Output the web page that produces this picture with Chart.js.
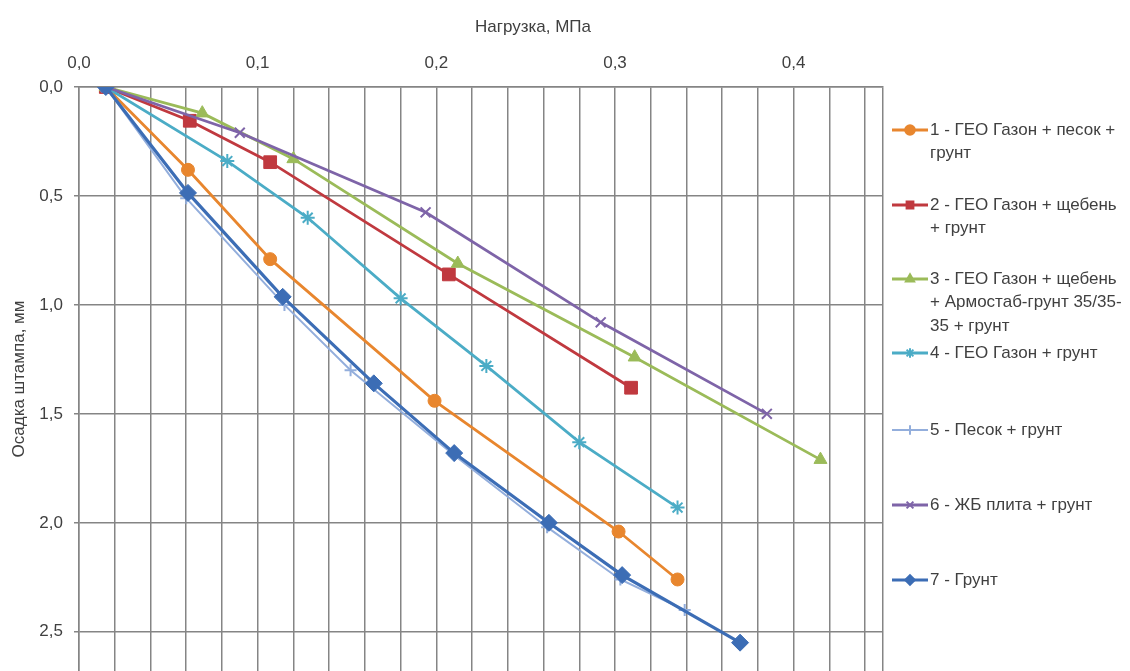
<!DOCTYPE html>
<html><head><meta charset="utf-8">
<script src="https://cdn.jsdelivr.net/npm/chart.js@4.4.1/dist/chart.umd.min.js"></script>
<style>html,body{margin:0;padding:0;background:#fff;}#wrap{width:1130px;height:671px;position:relative;}</style>
</head><body><div id="wrap"><canvas id="c" width="1130" height="671"></canvas></div>
<script>
// ---- data (load, MPa / settlement, mm) ----
const s1x = [0.015, 0.061, 0.107, 0.199, 0.302, 0.335];
const s1y = [0, 0.38, 0.79, 1.44, 2.04, 2.26];
const s2x = [0.015, 0.062, 0.107, 0.207, 0.309];
const s2y = [0, 0.155, 0.345, 0.86, 1.38];
const s3x = [0.015, 0.069, 0.120, 0.212, 0.311, 0.415];
const s3y = [0, 0.12, 0.33, 0.81, 1.24, 1.71];
const s4x = [0.015, 0.083, 0.128, 0.180, 0.228, 0.280, 0.335];
const s4y = [0, 0.34, 0.60, 0.97, 1.28, 1.63, 1.93];
const s5x = [0.015, 0.060, 0.115, 0.152, 0.210, 0.262, 0.303, 0.339];
const s5y = [0, 0.51, 1.00, 1.30, 1.69, 2.02, 2.26, 2.40];
const s6x = [0.015, 0.090, 0.194, 0.292, 0.385];
const s6y = [0, 0.21, 0.575, 1.08, 1.50];
const s7x = [0.015, 0.061, 0.114, 0.165, 0.210, 0.263, 0.304, 0.370];
const s7y = [0, 0.486, 0.963, 1.36, 1.68, 2.00, 2.24, 2.55];

const seriesNames = [
  '1 - ГЕО Газон + песок +\nгрунт',
  '2 - ГЕО Газон + щебень\n+ грунт',
  '3 - ГЕО Газон + щебень\n+ Армостаб-грунт 35/35-\n35 + грунт',
  '4 - ГЕО Газон + грунт',
  '5 - Песок + грунт',
  '6 - ЖБ плита + грунт',
  '7 - Грунт'
];
const xGridValues = [0,0.02,0.04,0.06,0.08,0.10,0.12,0.14,0.16,0.18,0.20,0.22,0.24,0.26,0.28,0.30,0.32,0.34,0.36,0.38,0.40,0.42,0.44,0.45];
const xTickValues = [0, 0.1, 0.2, 0.3, 0.4];
const xTickLabels = ['0,0', '0,1', '0,2', '0,3', '0,4'];
const yTickValues = [0, 0.5, 1.0, 1.5, 2.0, 2.5];
const yTickLabels = ['0,0', '0,5', '1,0', '1,5', '2,0', '2,5'];
const xTitle = 'Нагрузка, МПа';
const yTitle = 'Осадка штампа, мм';

const xs = [s1x, s2x, s3x, s4x, s5x, s6x, s7x];
const ys = [s1y, s2y, s3y, s4y, s5y, s6y, s7y];
const colors = ['#E8862E', '#C0393F', '#9BBB59', '#4BACC6', '#93AEDC', '#7E64A8', '#3C6DB5'];
const styles = ['circle', 'rect', 'triangle', 'star', 'cross', 'crossRot', 'rectRot'];
const radii = [6.5, 9, 7.5, 7, 6, 7, 8.5];
const widths = [2.8, 2.8, 2.8, 2.8, 2, 2.8, 3.2];

const FONT = "'Liberation Sans', Arial, sans-serif";
const TXT = '#404040';
const GRID = '#858585';

const datasets = seriesNames.map((n, i) => ({
  label: n.replace(/\n/g, ' '),
  data: xs[i].map((x, k) => ({x: x, y: ys[i][k]})),
  borderColor: colors[i],
  backgroundColor: colors[i],
  pointBackgroundColor: colors[i],
  pointBorderColor: colors[i],
  pointStyle: styles[i],
  pointRadius: radii[i],
  pointBorderWidth: (styles[i]==='star'||styles[i]==='cross'||styles[i]==='crossRot') ? 2 : 1,
  borderWidth: widths[i],
  tension: 0,
  fill: false,
  order: 7 - i
}));

function drawMarker(ctx, style, r, x, y, color) {
  ctx.save();
  ctx.fillStyle = color; ctx.strokeStyle = color; ctx.lineWidth = 2;
  if (Chart.helpers && Chart.helpers.drawPoint) {
    Chart.helpers.drawPoint(ctx, {pointStyle: style, radius: r, rotation: 0, borderWidth: 2}, x, y);
  } else {
    ctx.beginPath(); ctx.arc(x, y, r, 0, Math.PI*2); ctx.fill();
  }
  ctx.restore();
}

const extras = {
  id: 'extras',
  afterDraw(chart) {
    const ctx = chart.ctx;
    ctx.save();
    ctx.fillStyle = TXT;
    ctx.font = '17px ' + FONT;
    ctx.textAlign = 'center';
    ctx.textBaseline = 'middle';
    ctx.fillText(xTitle, 533, 27);
    // legend
    const itemY = [130, 205, 279, 353, 430, 505, 580];
    ctx.textAlign = 'left';
    seriesNames.forEach((n, i) => {
      const y = itemY[i];
      ctx.strokeStyle = colors[i];
      ctx.lineWidth = widths[i];
      ctx.beginPath(); ctx.moveTo(892, y); ctx.lineTo(928, y); ctx.stroke();
      drawMarker(ctx, styles[i], Math.min(radii[i], 6) * 0.8, 910, y, colors[i]);
      ctx.fillStyle = TXT;
      ctx.font = '17px ' + FONT;
      n.split('\n').forEach((line, k) => ctx.fillText(line, 930, y + k * 23.5));
    });
    ctx.restore();
  }
};

new Chart(document.getElementById('c'), {
  type: 'line',
  data: {datasets},
  options: {
    responsive: false,
    animation: false,
    layout: {autoPadding: false, padding: {left: 0, right: 247, top: 0, bottom: 0}},
    plugins: {legend: {display: false}, tooltip: {enabled: false}},
    scales: {
      x: {
        type: 'linear', position: 'top', min: 0, max: 0.45,
        afterBuildTicks: s => { s.ticks = xGridValues.map(v => ({value: v})); },
        afterFit: s => { s.height = 87; s.paddingLeft = 0; s.paddingRight = 0; },
        ticks: {
          autoSkip: false, maxRotation: 0, minRotation: 0, padding: 13, color: TXT,
          font: {family: FONT, size: 17},
          callback: v => { const i = xTickValues.findIndex(t => Math.abs(t - v) < 1e-9); return i >= 0 ? xTickLabels[i] : ''; }
        },
        grid: {color: GRID, lineWidth: 1.5, drawTicks: false},
        border: {color: GRID, width: 1.5}
      },
      y: {
        type: 'linear', reverse: true, min: 0, max: 2.68,
        afterBuildTicks: s => { s.ticks = yTickValues.map(v => ({value: v})); },
        afterFit: s => { s.width = 79; s.paddingTop = 0; s.paddingBottom = 0; },
        ticks: {
          autoSkip: false, padding: 11, color: TXT, font: {family: FONT, size: 17},
          callback: v => { const i = yTickValues.findIndex(t => Math.abs(t - v) < 1e-9); return i >= 0 ? yTickLabels[i] : ''; }
        },
        grid: {color: GRID, lineWidth: 1.5, drawTicks: true, tickLength: 5},
        border: {color: GRID, width: 1.5},
        title: {display: true, text: yTitle, color: TXT, font: {family: FONT, size: 17}, padding: {top: 9, bottom: 0}}
      }
    }
  },
  plugins: [extras]
});
</script></body></html>
